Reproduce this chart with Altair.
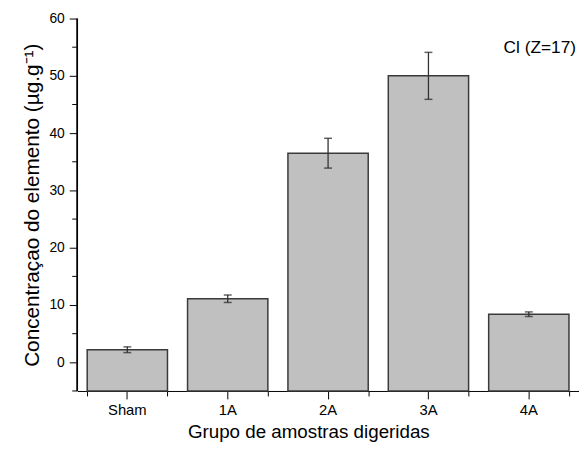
import altair as alt
import pandas as pd

categories = ["Sham", "1A", "2A", "3A", "4A"]
values = [2.2, 11.1, 36.5, 50.0, 8.4]
errors = [0.5, 0.65, 2.6, 4.1, 0.4]
major_y = [0, 10, 20, 30, 40, 50, 60]
minor_y = [-5, 5, 15, 25, 35, 45, 55]
y_domain = [-5, 60]
annotation = "Cl (Z=17)"
x_title = "Grupo de amostras digeridas"
y_title = "Concentraçao do elemento (µg.g⁻¹)"

df = pd.DataFrame({"grupo": categories, "valor": values, "erro": errors})
df_minor = pd.DataFrame({"v": minor_y})
df_axis = pd.DataFrame({"lo": [y_domain[0]], "hi": [y_domain[1]]})

FONT = "Liberation Sans"
W, H = 508, 377

xscale = alt.Scale(domain=categories, paddingInner=0.2, paddingOuter=0.1)
yscale = alt.Scale(domain=y_domain, nice=False, zero=False)

base = alt.Chart(df)

bars = base.mark_bar(fill="#c0c0c0", stroke="#3a3a3a", strokeWidth=1.5).encode(
    x=alt.X("grupo:N", scale=xscale, sort=categories,
            axis=alt.Axis(orient="bottom", title=x_title, labelAngle=0,
                          tickSize=8, labelPadding=4, labelFontSize=15,
                          titleFontSize=19, titlePadding=5, titleX=234,
                          domain=True, domainColor="black", tickColor="black",
                          labelColor="black", titleColor="black",
                          labelFont=FONT, titleFont=FONT, titleFontWeight="normal")),
    y=alt.Y("valor:Q", scale=yscale,
            axis=alt.Axis(orient="left", title=y_title, values=major_y,
                          tickSize=8, labelPadding=5, labelFontSize=14,
                          titleFontSize=21, titlePadding=7, grid=False,
                          domain=False, tickColor="black", labels=True,
                          labelColor="black", titleColor="black",
                          labelFont=FONT, titleFont=FONT, titleFontWeight="normal")),
    y2=alt.datum(y_domain[0]),
)

err_base = base.transform_calculate(
    lo="datum.valor - datum.erro", hi="datum.valor + datum.erro"
)

err_rule = err_base.mark_rule(color="#333333", strokeWidth=1.3).encode(
    x=alt.X("grupo:N", scale=xscale, sort=categories,
            axis=alt.Axis(orient="bottom", tickBand="extent", labels=False,
                          domain=False, tickSize=5, title=None,
                          tickColor="black")),
    y=alt.Y("lo:Q", scale=yscale),
    y2="hi:Q",
)

cap_lo = err_base.mark_tick(color="#222222", size=8, thickness=1.5).encode(
    x=alt.X("grupo:N", scale=xscale, sort=categories, axis=None),
    y=alt.Y("lo:Q", scale=yscale),
)
cap_hi = err_base.mark_tick(color="#222222", size=8, thickness=1.5).encode(
    x=alt.X("grupo:N", scale=xscale, sort=categories, axis=None),
    y=alt.Y("hi:Q", scale=yscale),
)

minor_ticks = alt.Chart(df_minor).mark_rule(color="black", strokeWidth=1).encode(
    y=alt.Y("v:Q", scale=yscale),
    x=alt.value(-5),
    x2=alt.value(0),
)

y_line = alt.Chart(df_axis).mark_rule(color="black", strokeWidth=1.8).encode(
    y=alt.Y("lo:Q", scale=yscale),
    y2="hi:Q",
    x=alt.value(0),
)

label = alt.Chart(pd.DataFrame({"t": [annotation]})).mark_text(
    align="right", baseline="alphabetic", font=FONT, fontSize=17.5, color="black"
).encode(text="t:N", x=alt.value(505), y=alt.value(35))

chart = alt.layer(bars, err_rule, cap_lo, cap_hi, minor_ticks, label, y_line).resolve_axis(
    x="independent"
).properties(
    width=W, height=H,
    autosize=alt.AutoSizeParams(type="none"),
    padding={"left": 70, "top": 8, "right": 0, "bottom": 52},
    background="white",
).configure_view(stroke=None)

chart.save("out.html", embed_options={"renderer": "svg", "actions": False})
